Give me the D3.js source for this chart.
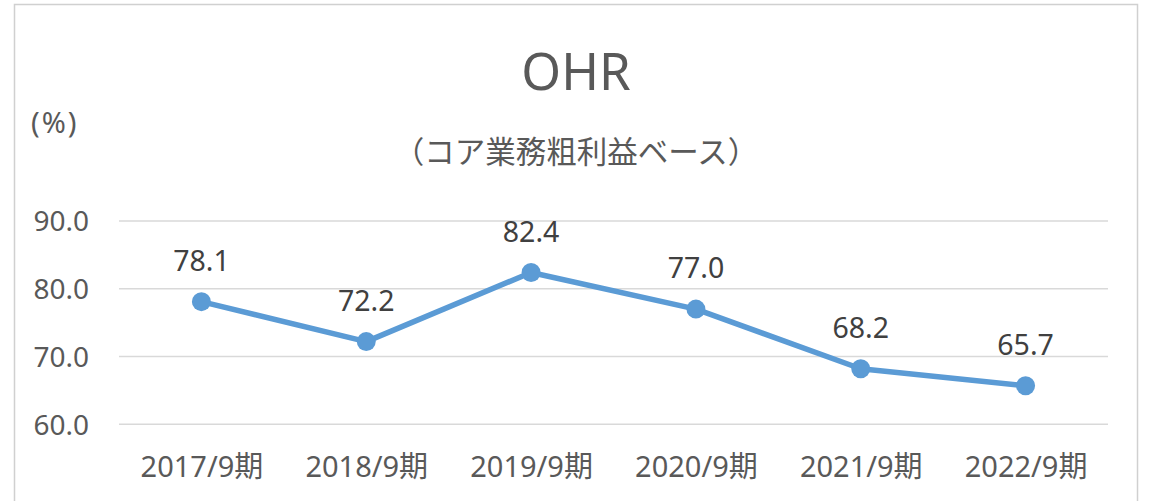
<!DOCTYPE html>
<html>
<head>
<meta charset="utf-8">
<script src="https://cdn.jsdelivr.net/npm/d3@7"></script>
<style>
  body { margin: 0; background: #fff; }
  svg text { font-family: "Noto Sans", "Noto Sans CJK JP", sans-serif; }
</style>
</head>
<body>
<div id="chart"></div>
<script>
// data
var periods = ["2017/9期", "2018/9期", "2019/9期", "2020/9期", "2021/9期", "2022/9期"];
var ohrValues = [78.1, 72.2, 82.4, 77.0, 68.2, 65.7];
var yTicks = [60, 70, 80, 90];

var width = 1150;
var height = 501;

var svg = d3
  .select("#chart")
  .append("svg")
  .attr("width", width)
  .attr("height", height);

// chart border
svg
  .append("rect")
  .attr("x", 14.5)
  .attr("y", 4.5)
  .attr("width", 1123)
  .attr("height", 540)
  .attr("fill", "#fff")
  .attr("stroke", "#d0d0d0")
  .attr("stroke-width", 1.5);

var plotLeft = 119;
var plotRight = 1108;

var xScale = d3
  .scalePoint()
  .domain(periods)
  .range([plotLeft, plotRight])
  .padding(0.5);

var yScale = d3
  .scaleLinear()
  .domain([60, 90])
  .range([424.3, 221]);

// gridlines
svg
  .append("g")
  .selectAll("line")
  .data(yTicks)
  .enter()
  .append("line")
  .attr("x1", plotLeft)
  .attr("x2", plotRight)
  .attr("y1", function(d) { return yScale(d); })
  .attr("y2", function(d) { return yScale(d); })
  .attr("stroke", "#d9d9d9")
  .attr("stroke-width", 1.5);

// y axis labels
var yAxis = d3
  .axisLeft(yScale)
  .tickValues(yTicks)
  .tickFormat(d3.format(".1f"))
  .tickSize(0)
  .tickPadding(30);

var yG = svg
  .append("g")
  .attr("transform", "translate(" + plotLeft + ",0)")
  .call(yAxis);
yG.select(".domain").remove();
yG.selectAll("text")
  .attr("font-size", 28)
  .attr("fill", "#595959")
  .attr("dy", "0.35em")
  .style("font-family", "'Noto Sans', sans-serif");

// x axis labels
var xAxis = d3.axisBottom(xScale).tickSize(0).tickPadding(0);
var xG = svg
  .append("g")
  .attr("transform", "translate(0,477)")
  .call(xAxis);
xG.select(".domain").remove();
xG.selectAll("text")
  .attr("font-size", 29)
  .attr("fill", "#595959")
  .attr("y", 0)
  .attr("dy", 0)
  .style("font-family", "'Noto Sans', 'Noto Sans CJK JP', sans-serif");

// line
var line = d3
  .line()
  .x(function(d, i) { return xScale(periods[i]); })
  .y(function(d) { return yScale(d); });

svg
  .append("path")
  .datum(ohrValues)
  .attr("d", line)
  .attr("fill", "none")
  .attr("stroke", "#5b9bd5")
  .attr("stroke-width", 5.5)
  .attr("stroke-linejoin", "round");

svg
  .append("g")
  .selectAll("circle")
  .data(ohrValues)
  .enter()
  .append("circle")
  .attr("cx", function(d, i) { return xScale(periods[i]); })
  .attr("cy", function(d) { return yScale(d); })
  .attr("r", 9.5)
  .attr("fill", "#5b9bd5");

// data labels
svg
  .append("g")
  .selectAll("text")
  .data(ohrValues)
  .enter()
  .append("text")
  .attr("x", function(d, i) { return xScale(periods[i]); })
  .attr("y", function(d) { return yScale(d) - 31; })
  .attr("text-anchor", "middle")
  .attr("font-size", 28.5)
  .attr("fill", "#404040")
  .text(function(d) { return d3.format(".1f")(d); });

// titles
svg
  .append("text")
  .attr("x", 576)
  .attr("y", 90)
  .attr("text-anchor", "middle")
  .attr("font-size", 51)
  .attr("fill", "#595959")
  .text("OHR");

svg
  .append("text")
  .attr("x", 576)
  .attr("y", 163)
  .attr("text-anchor", "middle")
  .attr("font-size", 30.5)
  .attr("fill", "#595959")
  .style("font-family", "'Noto Sans CJK JP', sans-serif")
  .text("（コア業務粗利益ベース）");

svg
  .append("text")
  .attr("x", 31)
  .attr("y", 133)
  .attr("font-size", 29)
  .attr("letter-spacing", 2)
  .attr("fill", "#595959")
  .text("(%)");
</script>
</body>
</html>
